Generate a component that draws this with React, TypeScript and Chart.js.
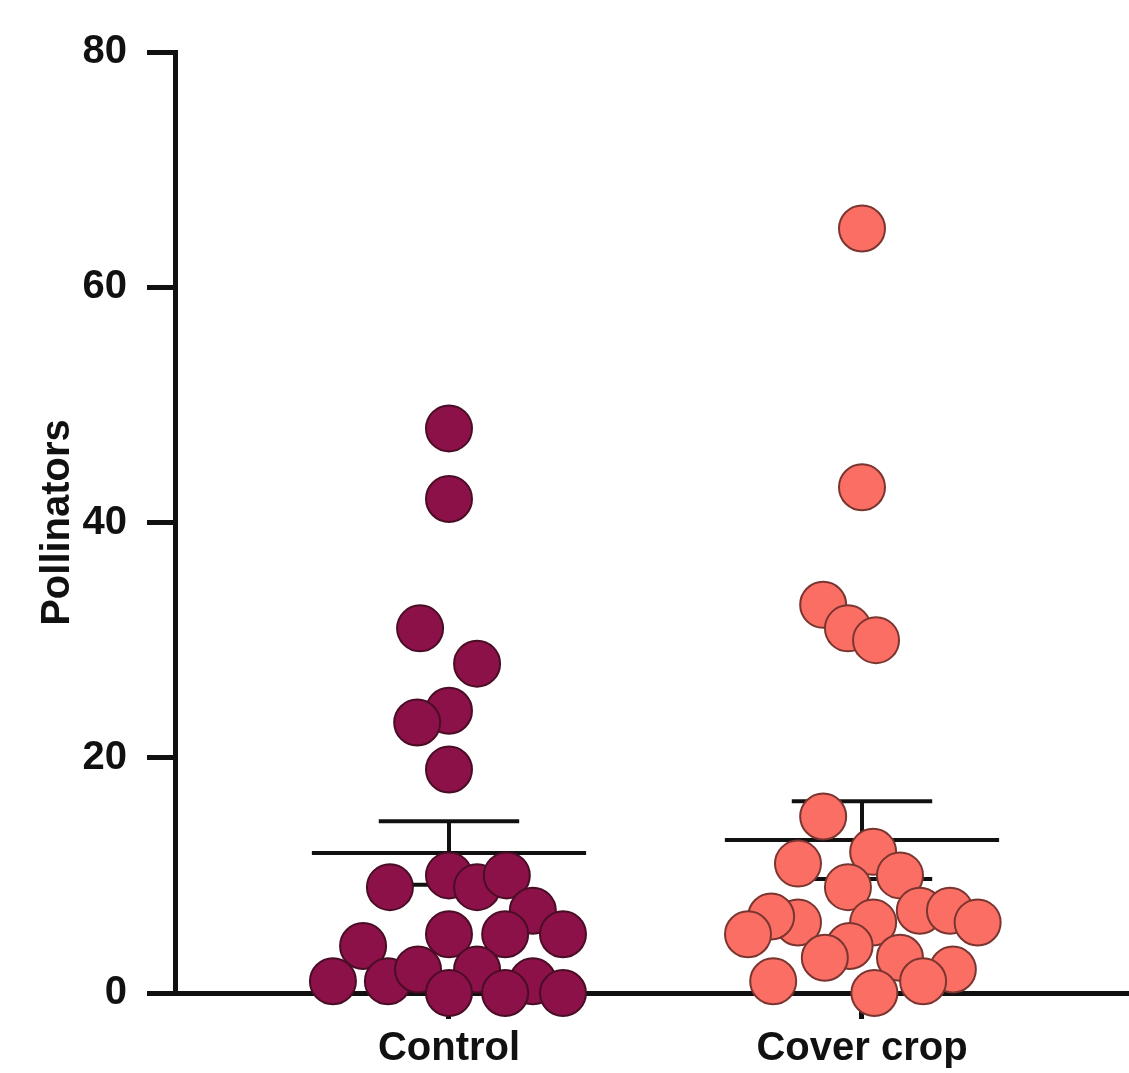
import React, { useEffect, useRef } from "react";
import { Chart, registerables } from "chart.js";

Chart.register(...registerables);

const categories = ["Control", "Cover crop"];
const yTicks = [0, 20, 40, 60, 80];

const controlValues = [48, 42, 31, 28, 24, 23, 19, 9, 10, 9, 10, 7, 5, 4, 5, 5, 1, 1, 2, 2, 1, 0, 0, 0];
const controlJitter = [0, 0, -0.07, 0.068, 0, -0.077, 0, -0.143, 0, 0.068, 0.14, 0.203, 0.276, -0.208, 0, 0.136, -0.281, -0.148, -0.075, 0.068, 0.203, 0, 0.136, 0.276];

const coverValues = [65, 43, 33, 31, 30, 15, 12, 11, 10, 9, 7, 7, 6, 6, 6, 6.5, 5, 4, 3, 3, 2, 1, 1, 0];
const coverJitter = [0, 0, -0.094, -0.034, 0.034, -0.094, 0.027, -0.155, 0.092, -0.034, 0.14, 0.213, 0.28, 0.027, -0.155, -0.22, -0.276, -0.03, -0.09, 0.092, 0.22, 0.148, -0.215, 0.03];

const means = [11.9, 13.0];
const sems = [2.7, 3.3];

const fills = ["#8C1148", "#FA6E64"];
const borders = ["#4A0D26", "#7A3530"];

const FONT = "'Liberation Sans', Arial, Helvetica, sans-serif";

export default function App() {
  const ref = useRef<HTMLCanvasElement | null>(null);

  useEffect(() => {
    if (!ref.current) return;
    const seriesVals = [controlValues, coverValues];
    const seriesJit = [controlJitter, coverJitter];
    const meanHalf = 0.332;
    const capHalf = 0.17;

    const pointSets = seriesVals.map((vals, ci) => ({
      type: "scatter" as const,
      label: categories[ci],
      data: vals.map((v, i) => ({ x: ci + 1 + seriesJit[ci][i], y: v })),
      backgroundColor: fills[ci],
      borderColor: borders[ci],
      borderWidth: 2,
      pointRadius: 23,
      pointHoverRadius: 23,
      order: 0,
      clip: false as any,
    }));

    const lineSet = (pts: { x: number; y: number }[]) => ({
      type: "scatter" as const,
      data: pts,
      showLine: true,
      borderColor: "#111",
      borderWidth: 4,
      pointRadius: 0,
      order: 1,
      clip: false as any,
    });

    const barSets: any[] = [];
    means.forEach((m, ci) => {
      const c = ci + 1;
      const s = sems[ci];
      barSets.push(lineSet([{ x: c - meanHalf, y: m }, { x: c + meanHalf, y: m }]));
      barSets.push(lineSet([{ x: c, y: m - s }, { x: c, y: m + s }]));
      barSets.push(lineSet([{ x: c - capHalf, y: m + s }, { x: c + capHalf, y: m + s }]));
      barSets.push(lineSet([{ x: c - capHalf, y: m - s }, { x: c + capHalf, y: m - s }]));
    });

    const chart = new Chart(ref.current, {
      type: "scatter",
      data: { datasets: [...pointSets, ...barSets] as any },
      options: {
        animation: false,
        responsive: false,
        layout: { autoPadding: false, padding: { top: 52, left: 0, right: 0, bottom: 0 } },
        plugins: { legend: { display: false }, tooltip: { enabled: false } },
        scales: {
          x: {
            type: "linear",
            min: 0.3366,
            max: 2.6465,
            afterBuildTicks: (scale: any) => {
              scale.ticks = categories.map((_, i) => ({ value: i + 1 }));
            },
            afterFit: (scale: any) => {
              scale.height = 80;
            },
            ticks: {
              autoSkip: false,
              maxRotation: 0,
              padding: 6,
              color: "#111",
              font: { family: FONT, size: 40, weight: "bold" },
              callback: (v: any) => categories[Math.round(Number(v)) - 1] ?? "",
            },
            grid: {
              drawOnChartArea: false,
              drawTicks: true,
              tickLength: 26,
              tickWidth: 5,
              tickColor: "#111",
            },
            border: { display: true, width: 5, color: "#111" },
          },
          y: {
            type: "linear",
            min: 0,
            max: 80,
            afterBuildTicks: (scale: any) => {
              scale.ticks = yTicks.map((v) => ({ value: v }));
            },
            afterFit: (scale: any) => {
              scale.width = 175;
            },
            ticks: {
              padding: 20,
              color: "#111",
              font: { family: FONT, size: 40, weight: "bold" },
            },
            grid: {
              drawOnChartArea: false,
              drawTicks: true,
              tickLength: 28,
              tickWidth: 5,
              tickColor: "#111",
            },
            border: { display: true, width: 5, color: "#111" },
            title: {
              display: true,
              text: "Pollinators",
              color: "#111",
              font: { family: FONT, size: 40, weight: "bold" },
              padding: { top: 34, bottom: 0 },
            },
          },
        },
      },
    });
    return () => chart.destroy();
  }, []);

  return (
    <div style={{ position: "absolute", left: 0, top: 0, width: 1129, height: 1073, background: "#fff" }}>
      <canvas ref={ref} width={1129} height={1073} style={{ display: "block" }} />
    </div>
  );
}
